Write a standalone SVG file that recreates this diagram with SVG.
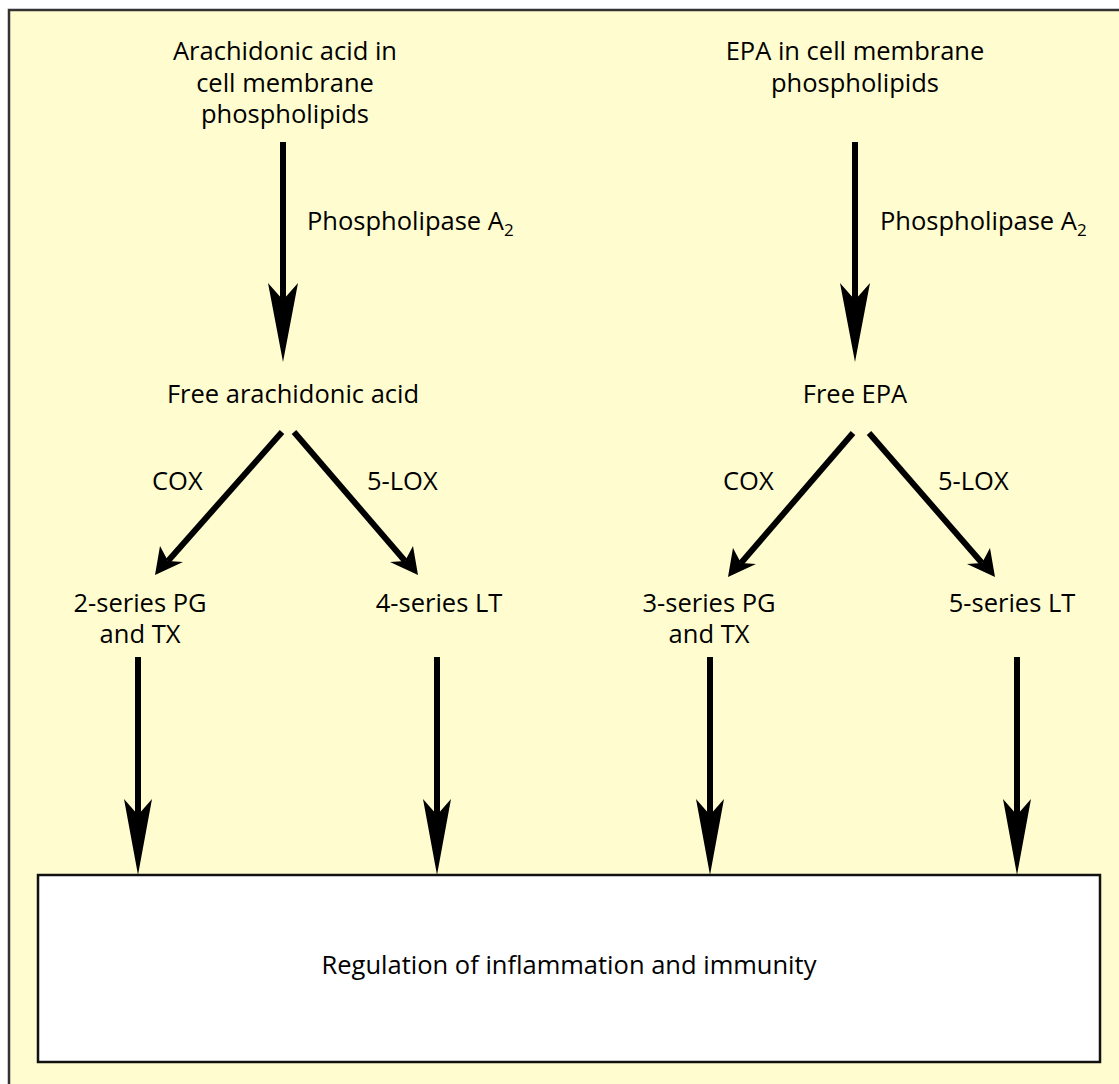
<svg xmlns="http://www.w3.org/2000/svg" width="1119" height="1084" viewBox="0 0 1119 1084">
<defs>
<style>
text{font-family:"Open Sans","Liberation Sans",sans-serif;font-size:25.5px;fill:#000;}
.c{text-anchor:middle;}
.ln{stroke:#000;stroke-width:6;fill:none;}
.ah{fill:#000;}
.sub{font-size:17px;}
</style>
</defs>
<rect x="0" y="0" width="1119" height="1084" fill="#fff"/>
<rect x="9" y="10" width="1120" height="1090" fill="#FFFDCF" stroke="#333" stroke-width="2.5"/>
<g id="aa-membrane"><text class="c" x="285" y="60">Arachidonic acid in</text><text class="c" x="285" y="92">cell membrane</text><text class="c" x="285" y="123">phospholipids</text></g>
<g id="epa-membrane"><text class="c" x="855" y="60">EPA in cell membrane</text><text class="c" x="855" y="92">phospholipids</text></g>
<g id="free-aa"><text class="c" x="293" y="403">Free arachidonic acid</text></g>
<g id="free-epa"><text class="c" x="855" y="403">Free EPA</text></g>
<g id="pg2"><text class="c" x="140" y="612">2-series PG</text><text class="c" x="140" y="643">and TX</text></g>
<g id="lt4"><text class="c" x="439" y="612">4-series LT</text></g>
<g id="pg3"><text class="c" x="709" y="612">3-series PG</text><text class="c" x="709" y="643">and TX</text></g>
<g id="lt5"><text class="c" x="1012" y="612">5-series LT</text></g>
<g id="regulation"><rect x="38" y="875" width="1062" height="187" fill="#fff" stroke="#111" stroke-width="2.5"/><text class="c" x="569" y="974">Regulation of inflammation and immunity</text></g>
<g id="connectors">
<line class="ln" x1="283" y1="142" x2="283" y2="320"/><path class="ah" d="M283 362 L268 283 L283 300 L298 283 Z"/>
<line class="ln" x1="855" y1="142" x2="855" y2="320"/><path class="ah" d="M855 362 L840 283 L855 300 L870 283 Z"/>
<text x="307" y="230">Phospholipase A<tspan class="sub" dy="6">2</tspan></text>
<text x="880" y="230">Phospholipase A<tspan class="sub" dy="6">2</tspan></text>
<line class="ln" x1="282" y1="432" x2="168" y2="561"/><path class="ah" d="M155 575 L160 546 L168 561 L183 562 Z"/>
<line class="ln" x1="294" y1="432" x2="405" y2="561"/><path class="ah" d="M418 575 L390 562 L405 561 L413 546 Z"/>
<line class="ln" x1="853" y1="433" x2="741" y2="563"/><path class="ah" d="M728 577 L733 548 L741 563 L756 564 Z"/>
<line class="ln" x1="869" y1="433" x2="982" y2="563"/><path class="ah" d="M995 577 L967 564 L982 563 L990 548 Z"/>
<text x="152" y="490">COX</text><text x="367" y="490">5-LOX</text>
<text x="723" y="490">COX</text><text x="938" y="490">5-LOX</text>
<line class="ln" x1="138" y1="657" x2="138" y2="830"/><path class="ah" d="M138 875 L124 799 L138 815 L152 799 Z"/>
<line class="ln" x1="437" y1="657" x2="437" y2="830"/><path class="ah" d="M437 875 L423 799 L437 815 L451 799 Z"/>
<line class="ln" x1="710" y1="657" x2="710" y2="830"/><path class="ah" d="M710 875 L696 799 L710 815 L724 799 Z"/>
<line class="ln" x1="1017" y1="657" x2="1017" y2="830"/><path class="ah" d="M1017 875 L1003 799 L1017 815 L1031 799 Z"/>
</g>
</svg>
